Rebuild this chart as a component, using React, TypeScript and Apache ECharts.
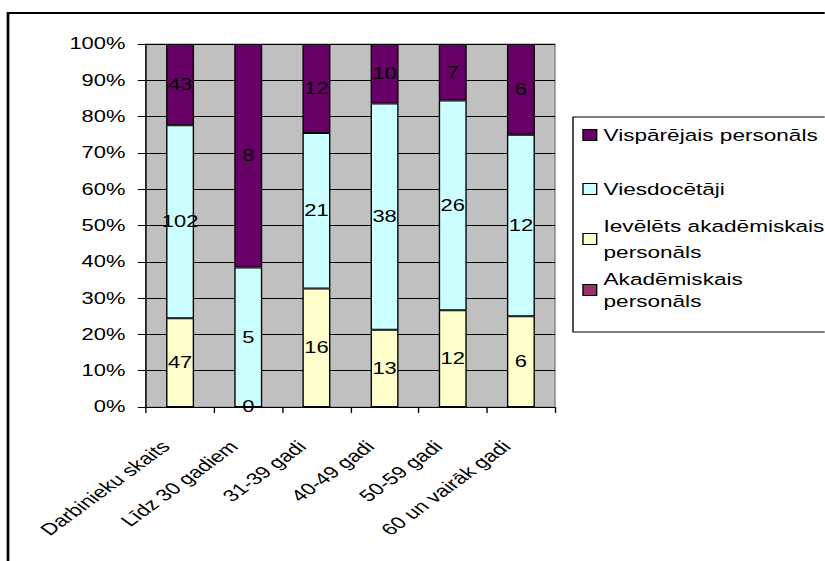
import React, { useEffect, useRef } from "react";
import * as echarts from "echarts";

// Horizontal stretch of the original picture
const S = 1.37;

const categories = [
  "Darbinieku skaits",
  "Līdz 30 gadiem",
  "31-39 gadi",
  "40-49 gadi",
  "50-59 gadi",
  "60 un vairāk gadi",
];
const ievelets = [47, 0, 16, 13, 12, 6];
const viesdocetaji = [102, 5, 21, 38, 26, 12];
const visparejais = [43, 8, 12, 10, 7, 6];
const akademiskais: number[] = [];

const seriesNames = [
  "Ievēlēts akadēmiskais personāls",
  "Viesdocētāji",
  "Vispārējais personāls",
  "Akadēmiskais personāls",
];
const seriesColors = ["#FFFFCC", "#CCFFFF", "#660066", "#993366"];

const totals = categories.map(
  (_, i) => ievelets[i] + viesdocetaji[i] + visparejais[i]
);
const pct = (arr: number[]) => arr.map((v, i) => (v / totals[i]) * 100);

const FONT = "'Liberation Sans', Arial, sans-serif";

export default function App() {
  const ref = useRef<HTMLDivElement>(null);
  useEffect(() => {
    if (!ref.current) return;
    const chart = echarts.init(ref.current, undefined, { renderer: "svg" });
    const raws = [ievelets, viesdocetaji, visparejais, akademiskais];
    const plotL = 146 / S;
    const plotR = 555 / S;
    const legendLeft = 582.3 / S;
    const mkSeries = (k: number) => ({
      name: seriesNames[k],
      type: "bar",
      stack: "total",
      barWidth: "41%",
      data: k < 3 ? pct(raws[k]) : [],
      itemStyle: { color: seriesColors[k], borderColor: "#000", borderWidth: 1 },
      label: {
        show: true,
        position: "inside",
        color: "#000",
        fontSize: 16,
        fontFamily: FONT,
        formatter: (p: any) => String(raws[k][p.dataIndex]),
      },
    });
    const legendBase = {
      orient: "vertical",
      left: legendLeft,
      padding: 0,
      icon: "rect",
      itemWidth: 10,
      itemHeight: 11,
      selectedMode: false,
      itemStyle: { borderColor: "#000", borderWidth: 1 },
    };
    const LF = 16.5;
    chart.setOption({
      animation: false,
      backgroundColor: "#fff",
      grid: {
        left: plotL,
        top: 44,
        width: plotR - plotL,
        height: 363,
        show: true,
        backgroundColor: "#C0C0C0",
        borderColor: "#808080",
        borderWidth: 1,
        containLabel: false,
      },
      legend: [
        {
          ...legendBase,
          data: [seriesNames[2]],
          top: 135 - 10,
          textStyle: { fontSize: LF, fontFamily: FONT, color: "#000", lineHeight: 20 },
        },
        {
          ...legendBase,
          data: [seriesNames[1]],
          top: 189 - 10,
          textStyle: { fontSize: LF, fontFamily: FONT, color: "#000", lineHeight: 20 },
        },
        {
          ...legendBase,
          data: [seriesNames[0]],
          top: 239 - 39,
          formatter: () => "Ievēlēts akadēmiskais\npersonāls",
          textStyle: {
            fontSize: LF,
            fontFamily: FONT,
            color: "#000",
            lineHeight: 26,
            padding: [26, 0, 0, 0],
          },
        },
        {
          ...legendBase,
          data: [seriesNames[3]],
          top: 290 - 33,
          formatter: () => "Akadēmiskais\npersonāls",
          textStyle: {
            fontSize: LF,
            fontFamily: FONT,
            color: "#000",
            lineHeight: 22,
            padding: [22, 0, 0, 0],
          },
        },
      ],
      xAxis: {
        type: "category",
        data: categories,
        axisLine: { lineStyle: { color: "#000", width: 1 } },
        axisTick: { show: true, length: 6, lineStyle: { color: "#000" } },
        axisLabel: {
          interval: 0,
          rotate: 45,
          margin: 26,
          padding: [0, 15, 0, 0],
          fontSize: 16.5,
          fontFamily: FONT,
          color: "#000",
        },
        splitLine: { show: false },
      },
      yAxis: {
        type: "value",
        min: 0,
        max: 100,
        interval: 10,
        axisLine: { show: true, lineStyle: { color: "#000", width: 1 } },
        axisTick: { show: true, length: 6, lineStyle: { color: "#000" } },
        axisLabel: {
          formatter: "{value}%",
          margin: 15,
          fontSize: 16,
          fontFamily: FONT,
          color: "#000",
        },
        splitLine: { show: true, lineStyle: { color: "#000", width: 1 } },
      },
      graphic: [
        {
          type: "rect",
          shape: { x: 8 / S, y: 13, width: 1000, height: 1000 },
          style: { fill: "none", stroke: "#000", lineWidth: 2 },
          silent: true,
        },
        {
          type: "rect",
          shape: { x: 573 / S, y: 117, width: 500, height: 215 },
          style: { fill: "none", stroke: "#000", lineWidth: 1 },
          silent: true,
        },
      ],
      series: [0, 1, 2, 3].map(mkSeries),
    });
    return () => chart.dispose();
  }, []);
  return (
    <div
      style={{
        position: "fixed",
        left: 0,
        top: 0,
        width: 825,
        height: 561,
        overflow: "hidden",
        background: "#fff",
      }}
    >
      <div
        ref={ref}
        style={{
          width: 825 / S,
          height: 561,
          transform: `scaleX(${S})`,
          transformOrigin: "0 0",
        }}
      />
    </div>
  );
}
